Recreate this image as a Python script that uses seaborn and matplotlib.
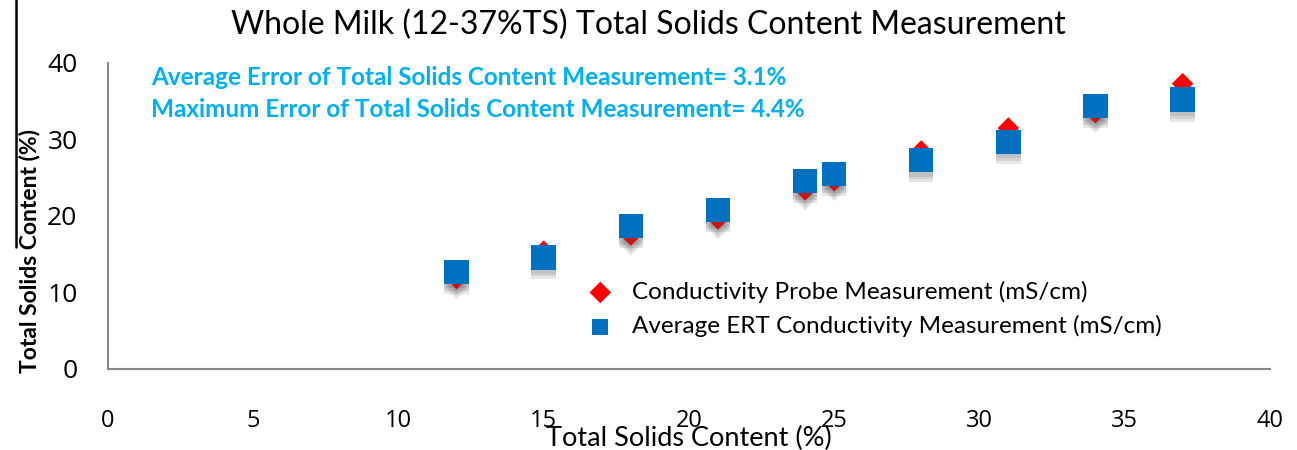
import pandas as pd
import matplotlib.pyplot as plt
import matplotlib.patheffects as pe
from matplotlib.lines import Line2D
import seaborn as sns

# measured total solids (%) at each sample
ts_actual = [12, 15, 18, 21, 24, 25, 28, 31, 34, 37]
probe_values = [11.8, 15.4, 17.5, 19.6, 23.4, 24.6, 28.5, 31.5, 33.5, 37.3]
ert_values = [12.7, 14.6, 18.7, 20.8, 24.6, 25.5, 27.3, 29.7, 34.4, 35.2]

probe_label = "Conductivity Probe Measurement (mS/cm)"
ert_label = "Average ERT Conductivity Measurement (mS/cm)"
notes = ["Average Error of Total Solids Content Measurement= 3.1%",
         "Maximum Error of Total Solids Content Measurement= 4.4%"]

df = pd.DataFrame({"ts": ts_actual, "probe": probe_values, "ert": ert_values})

sns.set_style("white")
plt.rcParams["font.family"] = ["Lato", "DejaVu Sans"]
plt.rcParams["text.color"] = "black"
plt.rcParams["axes.labelcolor"] = "black"

fig = plt.figure(figsize=(12.97, 4.5), dpi=100)
ax = fig.add_axes([0.0833, 0.18, 0.8957, 0.68])

# soft drop shadow, built from a few faint offset copies
shadow = [pe.SimplePatchShadow(offset=(0, -d), shadow_rgbFace=(0.3, 0.3, 0.3), alpha=0.13)
          for d in (3, 5, 7)] + [pe.Normal()]

sns.scatterplot(data=df, x="ts", y="probe", marker="D", s=120, color="#FF0000",
                edgecolor="none", label=probe_label, ax=ax, zorder=3)
sns.scatterplot(data=df, x="ts", y="ert", marker="s", s=310, color="#0070C0",
                edgecolor="none", label=ert_label, ax=ax, zorder=4)
for coll in ax.collections:
    coll.set_path_effects(shadow)

ax.set_xlim(0, 40)
ax.set_ylim(0, 40)
ax.set_xticks(range(0, 41, 5))
ax.set_yticks(range(0, 41, 10))
for s in ["top", "right"]:
    ax.spines[s].set_visible(False)
for s in ["left", "bottom"]:
    ax.spines[s].set_color("#888888")
    ax.spines[s].set_linewidth(1.5)
ax.tick_params(axis="both", direction="out", length=8, width=1.3, color="#888888",
               labelsize=17, labelcolor="black")
ax.tick_params(axis="x", pad=21)
ax.tick_params(axis="y", pad=14, labelsize=19)
for lab in ax.get_xticklabels() + ax.get_yticklabels():
    lab.set_fontfamily(["Open Sans", "DejaVu Sans"])

ax.set_xlabel("Total Solids Content (%)", fontsize=19.5, labelpad=-5, color="black")
ax.set_ylabel("Total Solids Content (%)", fontsize=16.5, fontweight="bold", color="black")
ax.yaxis.set_label_coords(-0.058, 0.386)
fig.suptitle("Whole Milk (12-37%TS) Total Solids Content Measurement", fontsize=23,
             x=0.50, y=0.978, va="top", color="black")

ax.text(0.037, 0.99, notes[0], transform=ax.transAxes, color="#00B0F0",
        fontsize=17.5, fontweight="bold", va="top")
ax.text(0.037, 0.885, notes[1], transform=ax.transAxes, color="#00B0F0",
        fontsize=17.5, fontweight="bold", va="top")

leg = ax.legend(loc="upper left", bbox_to_anchor=(0.384, 0.36), frameon=False,
                fontsize=17.5, handletextpad=0.3, labelspacing=0.5,
                markerscale=1.0, labelcolor="black")
for h in leg.legend_handles:
    h.set_path_effects([])
leg.legend_handles[1].set_sizes([130])

fig.add_artist(Line2D([16 / 1297, 16 / 1297], [1, 1 - 247 / 450], color="black",
                      linewidth=1.8, transform=fig.transFigure))

plt.savefig("out.png", dpi=100)
